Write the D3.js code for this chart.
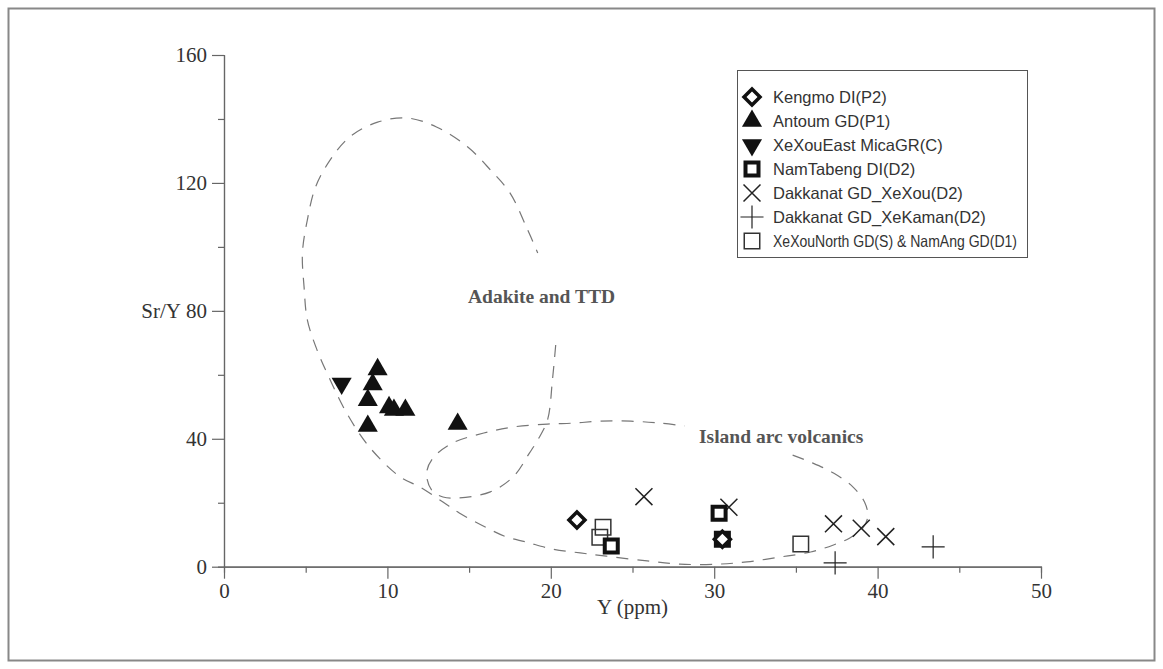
<!DOCTYPE html>
<html lang="en">
<head>
  <meta charset="UTF-8">
  <title>Sr/Y vs Y</title>
  <script src="https://d3js.org/d3.v7.min.js"></script>
  <style>
    body {
      margin: 0;
      padding: 0;
      background-color: white;
    }

    .axis text {
      font-family: "Liberation Serif", "Times New Roman", serif;
      font-size: 21px;
      fill: #333;
    }

    .axis path,
    .axis line {
      stroke: #666;
      stroke-width: 1.2px;
    }

    .title {
      font-family: "Liberation Serif", "Times New Roman", serif;
      font-size: 21px;
      fill: #333;
    }

    .field {
      fill: none;
      stroke: #777;
      stroke-width: 1.2px;
      stroke-dasharray: 12 9;
    }

    .field-label {
      font-family: "Liberation Serif", "Times New Roman", serif;
      font-weight: bold;
      font-size: 19.5px;
      fill: #555;
    }

    .legend text {
      font-family: "Liberation Sans", Arial, sans-serif;
      font-size: 16.5px;
      fill: #333;
    }
  </style>
</head>
<body>
  <script>
    // Samples: [Y (ppm), Sr/Y]
    const kengmo = [[21.6, 14.6], [30.5, 8.6]];
    const antoum = [[9.4, 61.7], [9.1, 57.0], [8.8, 52.1], [10.1, 49.8], [10.4, 49.0],
                    [11.1, 49.0], [8.8, 44.0], [14.3, 44.6]];
    const xexouEast = [[7.2, 57.3]];
    const namTabeng = [[23.7, 6.5], [30.3, 16.7], [30.5, 8.6]];
    const dakkanatXeXou = [[25.7, 21.9], [30.9, 18.6], [37.3, 13.4], [39.0, 12.0], [40.5, 9.4]];
    const dakkanatXeKaman = [[37.4, 1.2], [43.4, 6.2]];
    const xexouNorth = [[23.2, 12.3], [23.0, 9.2], [35.3, 7.1]];

    // Field boundaries (dashed), same units
    const outerField = [
      [34.8, 34.9], [35.9, 32.7], [37.3, 29.3], [38.5, 24.9], [39.2, 20.2], [39.4, 15.8],
      [39.1, 12.1], [38.3, 9.0], [37.3, 6.8], [35.9, 4.6], [34.0, 3.0], [32.0, 1.5],
      [30.2, 0.8], [27.9, 0.8], [25.9, 1.8], [23.4, 3.3], [21.8, 4.3], [20.1, 5.5],
      [18.5, 7.7], [17.3, 9.3], [16.1, 12.1], [14.4, 16.8], [13.4, 20.2], [12.0, 24.9],
      [10.8, 28.0], [8.9, 37.4], [7.5, 48.1], [6.5, 58.4], [5.7, 67.7], [5.1, 77.2],
      [4.9, 87.5], [4.8, 98.1], [5.1, 108.4], [5.6, 118.7], [6.5, 127.2], [7.7, 134.4],
      [9.4, 139.0], [11.2, 140.3], [13.0, 137.5], [14.9, 131.3], [16.3, 124.1],
      [17.5, 116.9], [18.5, 106.3], [19.2, 98.1]
    ];
    const innerField = [
      [20.3, 69.3], [20.1, 58.4], [19.8, 45.9], [19.2, 39.6], [18.7, 35.6], [17.7, 28.1],
      [16.3, 23.4], [14.4, 21.5], [13.4, 21.8], [12.7, 24.0], [12.4, 29.3], [12.8, 34.0],
      [14.0, 38.7], [15.9, 41.8], [17.7, 43.7], [19.8, 44.6], [21.4, 44.9], [23.0, 45.5],
      [24.9, 45.5], [26.7, 44.9], [28.2, 44.0]
    ];

    const xTicks = [0, 10, 20, 30, 40, 50];
    const xMinor = [5, 15, 25, 35, 45];
    const yTicks = [0, 40, 80, 120, 160];
    const yMinor = [20, 60, 100, 140];

    const width = 1163;
    const height = 669;

    const svg = d3.select("body").append("svg")
      .attr("width", width)
      .attr("height", height);

    // outer frame
    svg.append("rect")
      .attr("x", 8.5).attr("y", 8.5)
      .attr("width", width - 17).attr("height", height - 17)
      .attr("fill", "white")
      .attr("stroke", "#888")
      .attr("stroke-width", 2);

    const x = d3.scaleLinear().domain([0, 50]).range([224, 1041]);
    const y = d3.scaleLinear().domain([0, 160]).range([566.7, 55]);

    // axes: minor ticks first, then major ticks with labels
    svg.append("g").attr("class", "axis")
      .attr("transform", `translate(0,${y(0)})`)
      .call(d3.axisBottom(x).tickValues(xMinor).tickSize(6).tickFormat(""));
    svg.append("g").attr("class", "axis")
      .attr("transform", `translate(0,${y(0)})`)
      .call(d3.axisBottom(x).tickValues(xTicks).tickSize(12).tickSizeOuter(0).tickPadding(4));

    svg.append("g").attr("class", "axis")
      .attr("transform", `translate(${x(0)},0)`)
      .call(d3.axisLeft(y).tickValues(yMinor).tickSize(6).tickFormat(""));
    svg.append("g").attr("class", "axis")
      .attr("transform", `translate(${x(0)},0)`)
      .call(d3.axisLeft(y).tickValues(yTicks).tickSize(12).tickSizeOuter(0).tickPadding(5));

    // axis titles
    svg.append("text").attr("class", "title")
      .attr("x", x(25)).attr("y", 614)
      .attr("text-anchor", "middle")
      .text("Y (ppm)");

    svg.append("text").attr("class", "title")
      .attr("x", 181).attr("y", y(80) + 7)
      .attr("text-anchor", "end")
      .text("Sr/Y");

    // dashed fields
    const line = d3.line()
      .x(d => x(d[0]))
      .y(d => y(d[1]))
      .curve(d3.curveCatmullRom);

    svg.append("path").attr("class", "field").attr("d", line(outerField));
    svg.append("path").attr("class", "field").attr("d", line(innerField));

    svg.append("text").attr("class", "field-label")
      .attr("x", 468).attr("y", 303)
      .text("Adakite and TTD");
    svg.append("text").attr("class", "field-label")
      .attr("x", 699).attr("y", 443)
      .text("Island arc volcanics");

    // marker styles
    const styles = {
      diamond:  { type: d3.symbolSquare,   size: 128, rotate: 45, fill: "white", stroke: "#111", width: 3.5 },
      triangle: { type: d3.symbolTriangle, size: 175, rotate: 0,  fill: "#111",  stroke: "none", width: 0 },
      invTri:   { type: d3.symbolTriangle, size: 175, rotate: 180, fill: "#111", stroke: "none", width: 0 },
      bold:     { type: d3.symbolSquare,   size: 169, rotate: 0,  fill: "white", stroke: "#111", width: 4 },
      times:    { type: d3.symbolTimes,    size: 190, rotate: 0,  fill: "none",  stroke: "#222", width: 1.5 },
      plus:     { type: d3.symbolPlus,     size: 175, rotate: 0,  fill: "none",  stroke: "#222", width: 1.2 },
      open:     { type: d3.symbolSquare,   size: 240, rotate: 0,  fill: "none",  stroke: "#333", width: 1.5 }
    };

    const series = [
      { name: "Kengmo DI(P2)", data: kengmo, style: "diamond" },
      { name: "Antoum GD(P1)", data: antoum, style: "triangle" },
      { name: "XeXouEast MicaGR(C)", data: xexouEast, style: "invTri" },
      { name: "NamTabeng DI(D2)", data: namTabeng, style: "bold" },
      { name: "Dakkanat GD_XeXou(D2)", data: dakkanatXeXou, style: "times" },
      { name: "Dakkanat GD_XeKaman(D2)", data: dakkanatXeKaman, style: "plus" },
      { name: "XeXouNorth GD(S) & NamAng GD(D1)", data: xexouNorth, style: "open" }
    ];

    function drawMarker(g, st, cx, cy) {
      const s = styles[st];
      g.append("path")
        .attr("d", d3.symbol().type(s.type).size(s.size)())
        .attr("transform", `translate(${cx},${cy}) rotate(${s.rotate})`)
        .attr("fill", s.fill)
        .attr("stroke", s.stroke)
        .attr("stroke-width", s.width);
    }

    // draw the points; open squares under the bold symbols
    const order = [6, 4, 5, 3, 0, 1, 2];
    const pts = svg.append("g");
    order.forEach(i => {
      series[i].data.forEach(d => drawMarker(pts, series[i].style, x(d[0]), y(d[1])));
    });

    // legend
    const legend = svg.append("g").attr("class", "legend");
    const lx = 737, ly = 70, rowH = 24;
    legend.append("rect")
      .attr("x", lx + 0.5).attr("y", ly + 0.5)
      .attr("width", 290).attr("height", 187)
      .attr("fill", "white")
      .attr("stroke", "#555")
      .attr("stroke-width", 1);

    series.forEach((s, i) => {
      const cy = ly + 27 + i * rowH;
      drawMarker(legend, s.style, lx + 15, cy);
      const t = legend.append("text")
        .attr("x", lx + 36).attr("y", cy + 6)
        .text(s.name);
      // the long last entry is squeezed to fit the box, as in the original
      if (i === series.length - 1) {
        t.attr("textLength", 244).attr("lengthAdjust", "spacingAndGlyphs");
      }
    });
  </script>
</body>
</html>
